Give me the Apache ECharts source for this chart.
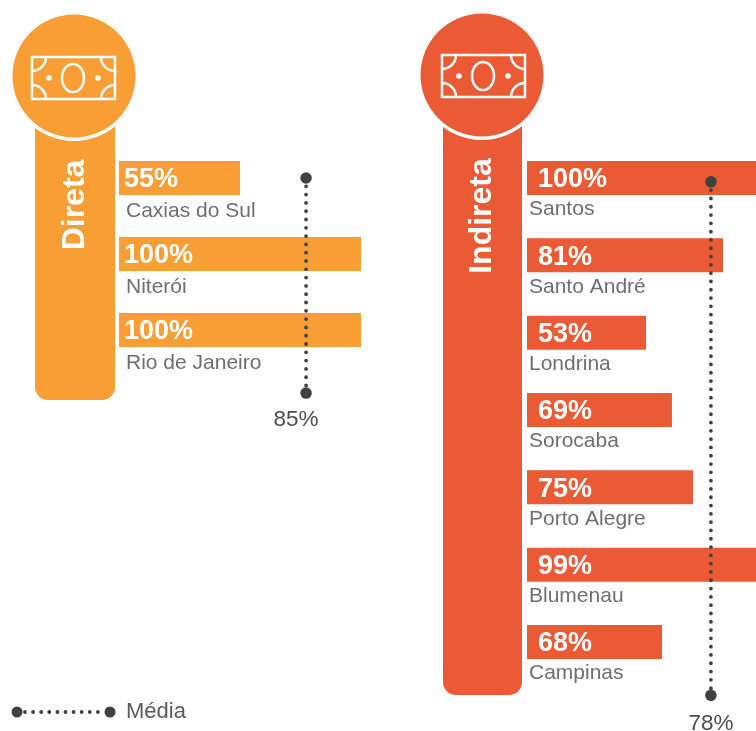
<!DOCTYPE html>
<html><head><meta charset="utf-8">
<style>html,body{margin:0;padding:0;background:#fff}#c{width:756px;height:731px}</style>
<script src="https://cdn.jsdelivr.net/npm/echarts@6/dist/echarts.min.js"></script>
</head><body><div id="c"></div>
<script>
// Data
const directCities = ['Caxias do Sul', 'Niterói', 'Rio de Janeiro'];
const directLabels = [55, 100, 100];          // printed percentages
const directLengths = [50, 100, 100];         // drawn bar lengths as measured
const indirectCities = ['Santos', 'Santo André', 'Londrina', 'Sorocaba', 'Porto Alegre', 'Blumenau', 'Campinas'];
const indirectLabels = [100, 81, 53, 69, 75, 99, 68];
const indirectLengths = [100, 81, 49.2, 59.9, 68.6, 99, 55.8];
const directMeanLabel = 85, directMeanDrawn = 77.3, directMeanRows = [0, 2.83];
const indirectMeanLabel = 78, indirectMeanDrawn = 76, indirectMeanRows = [0.05, 6.69];
const legendText = 'Média';
const ORANGE = '#f99d35', RED = '#ea5b35', DARK = '#414042', GREY = '#6d6e71';
const FONT = '"Liberation Sans", Arial, sans-serif';

function icon(x, y) {
  const s = {stroke: '#fff', lineWidth: 2.5, fill: null};
  const W = 83, H = 42;
  const arc = (cx, cy, a, b) => ({type: 'arc', z: 10, shape: {cx, cy, r: 14, startAngle: a, endAngle: b, clockwise: true}, style: s});
  return {type: 'group', x, y, children: [
    {type: 'rect', z: 10, shape: {x: 0, y: 0, width: W, height: H}, style: s},
    {type: 'ellipse', z: 10, shape: {cx: 41, cy: 21, rx: 11, ry: 14}, style: s},
    {type: 'circle', z: 10, shape: {cx: 17, cy: 21, r: 2.8}, style: {fill: '#fff'}},
    {type: 'circle', z: 10, shape: {cx: 66, cy: 21, r: 2.8}, style: {fill: '#fff'}},
    arc(0, 0, 0, Math.PI / 2),
    arc(W, 0, Math.PI / 2, Math.PI),
    arc(0, H, -Math.PI / 2, 0),
    arc(W, H, Math.PI, Math.PI * 1.5)
  ]};
}
function pillar(x, w, bottom, cx, cy, color, title, titleY) {
  return [
    {type: 'rect', z: 1, shape: {x, y: 110, width: w, height: bottom - 110, r: [0, 0, 13, 13]}, style: {fill: color}},
    {type: 'circle', z: 2, shape: {cx, cy, r: 65}, style: {fill: '#fff'}},
    {type: 'circle', z: 3, shape: {cx, cy, r: 61.5}, style: {fill: color}},
    {type: 'text', z: 4, x: x + w / 2, y: titleY, rotation: Math.PI / 2,
     style: {text: title, fill: '#fff', font: 'bold 32px ' + FONT, align: 'center', verticalAlign: 'middle'}}
  ];
}
const barSeries = (idx, lengths, labels, color, off) => ({
  type: 'bar', xAxisIndex: idx, yAxisIndex: idx * 2, data: lengths, barWidth: 34, z: 2,
  itemStyle: {color},
  label: {show: true, position: 'insideLeft', distance: off, offset: [0, 2], color: '#fff', fontFamily: FONT, fontWeight: 'bold', fontSize: 27,
          formatter: p => labels[p.dataIndex] + '%'}
});
const meanSeries = (idx, drawn, rows, label, labelOffset, color) => ({
  type: 'line', xAxisIndex: idx, yAxisIndex: idx * 2 + 1, z: 5, clip: false, silent: true,
  data: [[drawn, rows[0]], {value: [drawn, rows[1]], label: {show: true}}],
  symbol: 'circle', symbolSize: 11.5, itemStyle: {color},
  lineStyle: {color, width: 3.8, cap: 'round', type: [0, 8.3]},
  label: {show: false, position: 'bottom', distance: 8, offset: labelOffset, formatter: label + '%',
          color: '#4d4d4f', fontFamily: FONT, fontSize: 22.5}
});
const catAxis = (grid, cities, margin, pad) => ({
  type: 'category', gridIndex: grid, data: cities, inverse: true,
  axisLine: {show: false}, axisTick: {show: false},
  axisLabel: {inside: true, margin, color: GREY, fontFamily: FONT, fontSize: 21, align: 'left', verticalAlign: 'top', padding: [pad, 0, 0, 0]}
});
const rowAxis = (grid, n) => ({type: 'value', gridIndex: grid, min: -0.5, max: n - 0.5, inverse: true, show: false});
const valAxis = grid => ({type: 'value', gridIndex: grid, min: 0, max: 100, show: false});

const chart = echarts.init(document.getElementById('c'), null, {renderer: 'canvas'});
chart.setOption({
  animation: false,
  backgroundColor: '#fff',
  grid: [
    {left: 119, top: 140, width: 242, height: 228, outerBoundsMode: 'none'},
    {left: 527, top: 139.33, width: 242, height: 541.33, outerBoundsMode: 'none'}
  ],
  xAxis: [valAxis(0), valAxis(1)],
  yAxis: [
    catAxis(0, directCities, 7, 23), rowAxis(0, directCities.length),
    catAxis(1, indirectCities, 2, 21), rowAxis(1, indirectCities.length)
  ],
  series: [
    barSeries(0, directLengths, directLabels, ORANGE, 5),
    barSeries(1, indirectLengths, indirectLabels, RED, 11),
    meanSeries(0, directMeanDrawn, directMeanRows, directMeanLabel, [-10, 1], DARK),
    meanSeries(1, indirectMeanDrawn, indirectMeanRows, indirectMeanLabel, [0, 3], DARK)
  ],
  graphic: {elements: [
    ...pillar(35, 80, 400, 74, 76, ORANGE, 'Direta', 205),
    ...pillar(443, 79, 695, 482, 75, RED, 'Indireta', 216),
    icon(32, 57),
    icon(442, 55),
    {type: 'line', z: 5, shape: {x1: 25, y1: 712, x2: 105, y2: 712}, style: {stroke: DARK, lineWidth: 3.8, lineCap: 'round', lineDash: [0, 8.1]}},
    {type: 'circle', z: 6, shape: {cx: 17, cy: 712, r: 5.5}, style: {fill: DARK}},
    {type: 'circle', z: 6, shape: {cx: 110, cy: 712, r: 5.5}, style: {fill: DARK}},
    {type: 'text', z: 6, x: 126, y: 712, style: {text: legendText, fill: '#58595b', font: '22px ' + FONT, align: 'left', verticalAlign: 'middle'}}
  ]}
});
</script></body></html>
